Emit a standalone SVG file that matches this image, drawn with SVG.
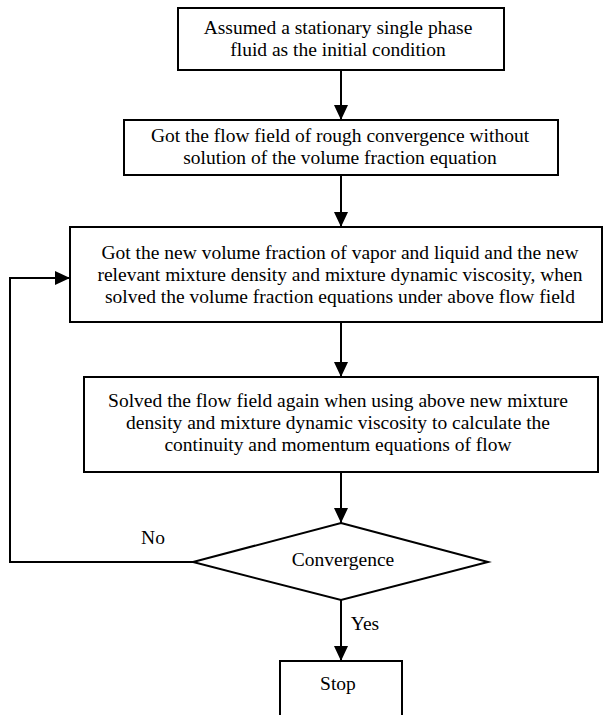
<svg xmlns="http://www.w3.org/2000/svg" width="603" height="715" viewBox="0 0 603 715">
<defs>
<style>
.box{fill:#fff;stroke:#000;stroke-width:2}
.t{font-family:'Liberation Serif','Times New Roman','DejaVu Serif',serif;font-size:19.5px;fill:#000;text-anchor:middle}
.c{fill:none;stroke:#000;stroke-width:2}
</style>
<marker id="ah" markerUnits="userSpaceOnUse" markerWidth="15" markerHeight="14" refX="15" refY="7" orient="auto">
<path d="M0,0 L15,7 L0,14 Z" fill="#000"/>
</marker>
</defs>
<rect width="603" height="715" fill="#fff"/>
<g id="connectors">
<line class="c" x1="341" y1="70" x2="341" y2="120" marker-end="url(#ah)"/>
<line class="c" x1="341" y1="175" x2="341" y2="227" marker-end="url(#ah)"/>
<line class="c" x1="341" y1="322" x2="341" y2="377" marker-end="url(#ah)"/>
<line class="c" x1="341" y1="472" x2="341" y2="523" marker-end="url(#ah)"/>
<line class="c" x1="341" y1="600" x2="341" y2="661" marker-end="url(#ah)"/>
<polyline class="c" points="193,562 10,562 10,278 70,278" marker-end="url(#ah)"/>
<text class="t" font-family="Liberation Serif, serif" x="153" y="544">No</text>
<text class="t" font-family="Liberation Serif, serif" x="365" y="630">Yes</text>
</g>
<g id="n1">
<rect class="box" x="178" y="8" width="326" height="62"/>
<text class="t" font-family="Liberation Serif, serif" x="338" y="33.5">Assumed a stationary single phase</text>
<text class="t" font-family="Liberation Serif, serif" x="338" y="55.5">fluid as the initial condition</text>
</g>
<g id="n2">
<rect class="box" x="124" y="120" width="434" height="55"/>
<text class="t" font-family="Liberation Serif, serif" x="340" y="142">Got the flow field of rough convergence without</text>
<text class="t" font-family="Liberation Serif, serif" x="340" y="164">solution of the volume fraction equation</text>
</g>
<g id="n3">
<rect class="box" x="70" y="227" width="532" height="95"/>
<text class="t" font-family="Liberation Serif, serif" x="340" y="259">Got the new volume fraction of vapor and liquid and the new</text>
<text class="t" font-family="Liberation Serif, serif" x="340" y="281">relevant mixture density and mixture dynamic viscosity, when</text>
<text class="t" font-family="Liberation Serif, serif" x="340" y="303">solved the volume fraction equations under above flow field</text>
</g>
<g id="n4">
<rect class="box" x="84" y="377" width="514" height="95"/>
<text class="t" font-family="Liberation Serif, serif" x="338" y="407">Solved the flow field again when using above new mixture</text>
<text class="t" font-family="Liberation Serif, serif" x="338" y="429">density and mixture dynamic viscosity to calculate the</text>
<text class="t" font-family="Liberation Serif, serif" x="338" y="451">continuity and momentum equations of flow</text>
</g>
<g id="n5">
<polygon class="box" points="341,523 488,562 341,600 193,562"/>
<text class="t" font-family="Liberation Serif, serif" x="343" y="566">Convergence</text>
</g>
<g id="n6">
<path class="c" d="M280,716 L280,661 L402,661 L402,716"/>
<text class="t" font-family="Liberation Serif, serif" x="338" y="690">Stop</text>
</g>
</svg>
